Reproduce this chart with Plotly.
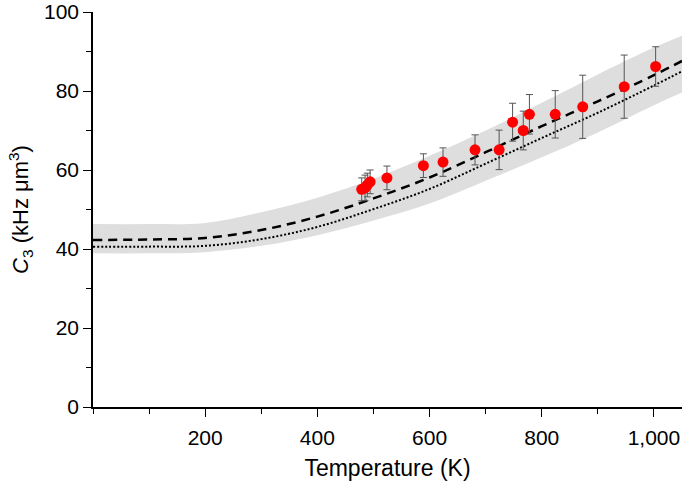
import plotly.graph_objects as go

# Measured data points
temp_pts = [479, 485, 489, 494, 524, 589, 624, 681, 724, 748, 767, 778, 824, 873, 947, 1003]
c3_pts = [55.1, 55.5, 56.2, 57.0, 58.0, 61.1, 62.0, 65.1, 65.1, 72.1, 70.0, 74.1, 74.1, 76.0, 81.1, 86.2]
c3_err = [2.9, 3.2, 3.0, 3.0, 3.0, 3.0, 3.6, 3.8, 5.0, 4.8, 4.9, 5.0, 6.0, 8.0, 8.0, 5.0]

# Theory curves
temp_curve = [0, 100, 200, 300, 400, 500, 600, 700, 800, 900, 1000, 1050]
dashed_c3 = [42.3, 42.4, 42.8, 44.8, 48.2, 52.8, 58.1, 64.5, 71.1, 77.4, 84.0, 87.6]
dotted_c3 = [40.6, 40.6, 40.8, 42.5, 45.6, 50.1, 55.2, 61.6, 68.1, 74.5, 81.4, 85.0]
band_upper = [46.3, 46.3, 46.6, 49.3, 53.0, 57.8, 63.6, 70.0, 77.0, 84.2, 91.0, 94.0]
band_lower = [38.9, 38.9, 39.2, 40.8, 43.5, 47.2, 51.5, 57.3, 63.2, 69.5, 76.4, 79.6]

x_tickvals = [200, 400, 600, 800, 1000]
x_ticktext = ["200", "400", "600", "800", "1,000"]
y_tickvals = [0, 20, 40, 60, 80, 100]

fig = go.Figure()

fig.add_trace(go.Scatter(x=temp_curve, y=band_lower, mode="lines",
                         line=dict(width=0, shape="spline", color="rgba(0,0,0,0)"),
                         showlegend=False, hoverinfo="skip"))
fig.add_trace(go.Scatter(x=temp_curve, y=band_upper, mode="lines",
                         line=dict(width=0, shape="spline", color="rgba(0,0,0,0)"),
                         fill="tonexty", fillcolor="#dedede",
                         showlegend=False, hoverinfo="skip"))
fig.add_trace(go.Scatter(x=temp_curve, y=dotted_c3, mode="lines",
                         line=dict(color="black", width=2, dash="2px,2px", shape="spline"),
                         showlegend=False))
fig.add_trace(go.Scatter(x=temp_curve, y=dashed_c3, mode="lines",
                         line=dict(color="black", width=2.5, dash="9px,6px", shape="spline"),
                         showlegend=False))
fig.add_trace(go.Scatter(x=temp_pts, y=c3_pts, mode="markers",
                         marker=dict(color="#ff0000", size=11),
                         error_y=dict(type="data", array=c3_err, visible=True,
                                      color="#555555", thickness=1, width=3.5),
                         showlegend=False))

font_family = "Liberation Sans, Arial, Helvetica, sans-serif"

fig.update_layout(
    width=685, height=485,
    margin=dict(l=93, r=3, t=12, b=78),
    paper_bgcolor="white", plot_bgcolor="white",
    font=dict(family=font_family, size=21, color="black"),
    xaxis=dict(
        range=[0, 1050], tickvals=x_tickvals, ticktext=x_ticktext,
        ticks="outside", ticklen=8, tickwidth=1.2, tickcolor="black",
        showline=True, linecolor="black", linewidth=1.5,
        showgrid=False, zeroline=False, automargin=False,
        ticklabelstandoff=3, ticklabeloverflow="allow",
        minor=dict(dtick=100, tick0=0, ticks="outside", ticklen=5, tickwidth=1.2, tickcolor="black"),
        title=dict(text="Temperature (K)", font=dict(size=23), standoff=12),
    ),
    yaxis=dict(
        range=[0, 100], tickvals=y_tickvals,
        ticks="outside", ticklen=8, tickwidth=1.2, tickcolor="black",
        showline=True, linecolor="black", linewidth=1.5,
        showgrid=False, zeroline=False, automargin=False,
        ticklabeloverflow="allow",
        minor=dict(dtick=10, tick0=0, ticks="outside", ticklen=5, tickwidth=1.2, tickcolor="black"),
        title=dict(text="<i>C</i><sub>3</sub> (kHz μm<sup>3</sup>)", font=dict(size=22), standoff=9),
    ),
)

fig.write_html("out.html", config={"displayModeBar": False},
               post_script="document.body.style.margin='0';document.body.style.overflow='hidden';")
